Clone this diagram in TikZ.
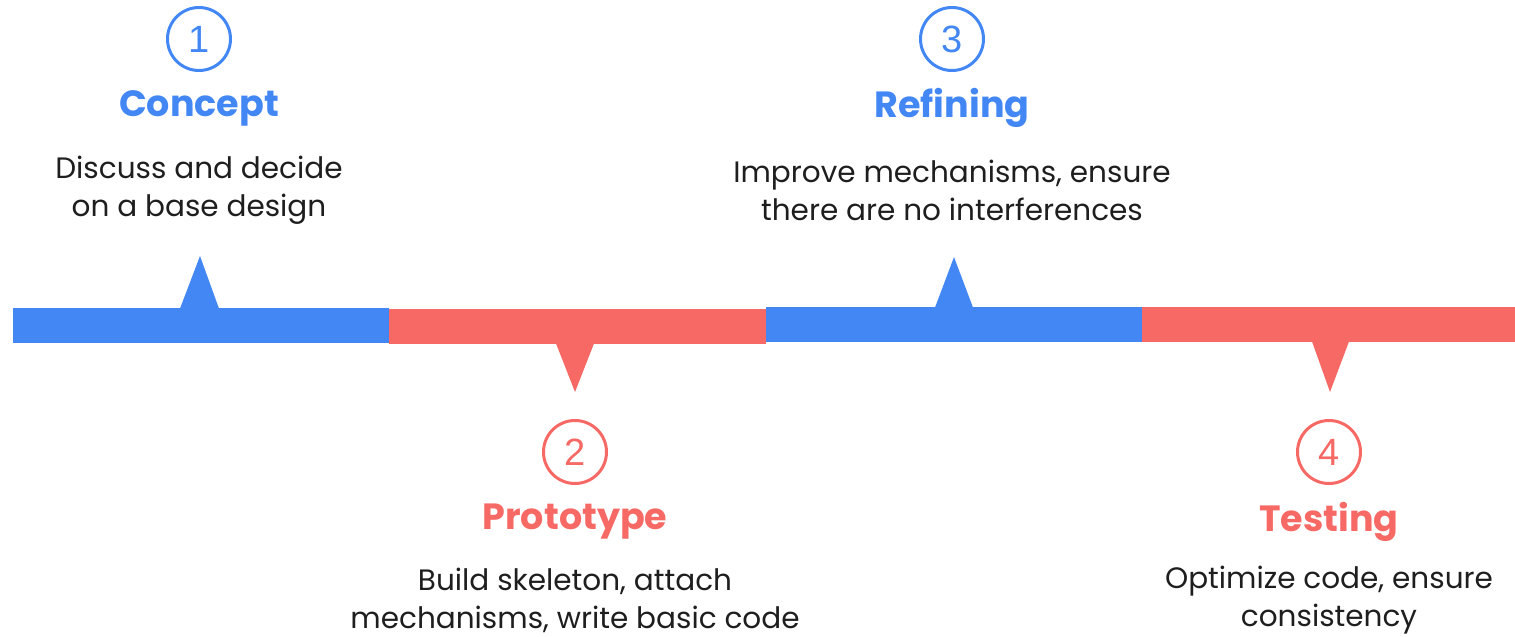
\documentclass[tikz,border=0pt]{standalone}
\usepackage{fontspec}
\setmainfont{Poppins}
\newfontfamily\titlefont{Poppins}[UprightFont=* Bold]
\newfontfamily\numfont{Liberation Sans}
\definecolor{tlblue}{HTML}{4387F5}
\definecolor{tlred}{HTML}{F66964}
\definecolor{bodytext}{HTML}{1E1E1E}
\begin{document}
\begin{tikzpicture}[x=1pt,y=-1pt,
  numcircle/.style={circle,draw=#1,line width=3pt,minimum size=63pt,inner sep=0pt,text=#1,font=\numfont\fontsize{38}{38}\selectfont},
  steptitle/.style={text=#1,font=\titlefont\fontsize{36.5}{40}\selectfont,inner sep=0pt},
  stepbody/.style={text=bodytext,align=center,font=\fontsize{29.5}{38}\selectfont,inner sep=0pt}
]
\useasboundingbox (0,0) rectangle (1515,637);
% timeline segments
\fill[tlblue] (13,308) rectangle (389,343);
\fill[tlblue] (180,308.5) -- (200,256) -- (219,308.5) -- cycle;
\fill[tlred] (389,309) rectangle (766,344);
\fill[tlred] (556,343.5) -- (575,392) -- (594,343.5) -- cycle;
\fill[tlblue] (766,307) rectangle (1142,342);
\fill[tlblue] (935,307.5) -- (954,257) -- (973,307.5) -- cycle;
\fill[tlred] (1142,307) rectangle (1515,342);
\fill[tlred] (1312,341.5) -- (1330,392) -- (1349,341.5) -- cycle;
% step 1
\node[numcircle=tlblue] (n1) at (199,39) {1};
\node[steptitle=tlblue] (t1) at (199,108) {Concept};
\node[stepbody] (b1) at (199,190) {Discuss and decide\\on a base design};
% step 2
\node[numcircle=tlred] (n2) at (575,452) {2};
\node[steptitle=tlred] (t2) at (575,522) {Prototype};
\node[stepbody] (b2) at (575,600) {Build skeleton, attach\\mechanisms, write basic code};
% step 3
\node[numcircle=tlblue] (n3) at (952,39) {3};
\node[steptitle=tlblue] (t3) at (952,108) {Refining};
\node[stepbody] (b3) at (952,190) {Improve mechanisms, ensure\\there are no interferences};
% step 4
\node[numcircle=tlred] (n4) at (1329,452) {4};
\node[steptitle=tlred] (t4) at (1329,522) {Testing};
\node[stepbody] (b4) at (1329,600) {Optimize code, ensure\\consistency};
\end{tikzpicture}
\end{document}
